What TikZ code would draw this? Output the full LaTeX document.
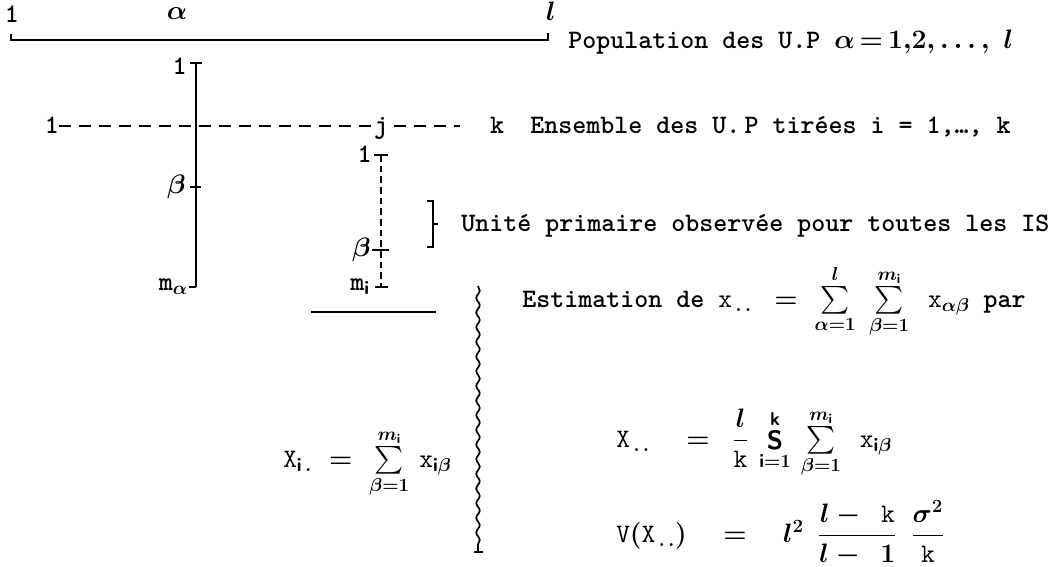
\documentclass[tikz,border=0pt]{standalone}
\usepackage{fix-cm}
\usepackage{exscale}
\usetikzlibrary{decorations.pathmorphing}
\begin{document}
\begin{tikzpicture}[x=0.75pt,y=-0.75pt,
  lbl/.style={font=\fontsize{20}{22}\selectfont\ttfamily\bfseries\boldmath, inner sep=0pt},
  ln/.style={line width=1.3pt},
  tick/.style={line width=1.2pt},
  hdash/.style={line width=1.3pt, dash pattern=on 9pt off 6pt},
  vdash/.style={line width=1.1pt, dash pattern=on 5pt off 3pt},
  wavy/.style={line width=1.3pt, decorate, decoration={snake, amplitude=1.3pt, segment length=11pt}},
]
\useasboundingbox (0,0) rectangle (1054,567);
\newcommand{\tx}[1]{\mathtt{#1}}
\newcommand{\sm}{\mathop{\textstyle\sum}\limits}

% population line
\node[lbl] (t1) at (12,14) {1};
\node[lbl] (ta) at (177,14) {$\alpha$};
\node[lbl] (tl) at (551,11) {$l$};
\coordinate (L0) at (11,34);
\coordinate (L1) at (11,40);
\coordinate (R1) at (548,40);
\coordinate (R0) at (548,33);
\draw[ln] (L0) -- (L1) -- (R1) -- (R0);
\node[lbl, anchor=base west] (pop) at (568,49) {Population des U.P $\alpha\,{=}\,1{,}2{,}\ldots{,}\ l$};

% solid vertical line (one U.P.)
\coordinate (va) at (196,63);
\coordinate (vb) at (196,287);
\coordinate (vaL) at (190,63);
\coordinate (vaR) at (202,63);
\coordinate (vbL) at (189,287);
\coordinate (vbetaL) at (190,187);
\coordinate (vbetaR) at (201,187);
\draw[ln] (va) -- (vb);
\draw[tick] (vaL) -- (vaR);
\draw[tick] (vbetaL) -- (vbetaR);
\draw[tick] (vbL) -- (vb);
\node[lbl, anchor=east] (v1) at (187,66) {1};
\node[lbl, anchor=east] (vbl) at (186,187) {$\beta$};
\node[lbl, anchor=east] (vml) at (188,287) {m$_\alpha$};

% dashed horizontal line (drawn U.P.)
\node[lbl, anchor=base] (d1) at (52,133) {1};
\node[lbl, anchor=base] (dj) at (381,133) {j};
\node[lbl, anchor=base] (dk) at (497,133) {k};
\coordinate (dje) at (394,126);
\coordinate (dke) at (460,126);
\draw[hdash] (d1.east |- dje) -- (dj.west |- dje);
\draw[hdash] (dje) -- (dke);
\node[lbl, anchor=base west] (ens) at (530,133) {Ensemble\ des\ U.\,P\ tirées i = 1,\ldots,\ k};

% dashed vertical line (observed U.P.)
\coordinate (wa) at (381,155);
\coordinate (wb) at (381,287);
\coordinate (waL) at (374,155);
\coordinate (waR) at (388,155);
\coordinate (wbetaL) at (372,250);
\coordinate (wbetaR) at (389,250);
\coordinate (wbL) at (375,287);
\coordinate (wbR) at (388,287);
\draw[vdash] (wa) -- (wb);
\draw[tick] (waL) -- (waR);
\draw[tick] (wbetaL) -- (wbetaR);
\draw[tick] (wbL) -- (wbR);
\node[lbl, anchor=east] (w1) at (372,154) {1};
\node[lbl, anchor=east] (wbl) at (371,250) {$\beta$};
\node[lbl, anchor=east] (wml) at (370,287) {m$_{\mathsf{i}}$};

% bracket
\coordinate (b1) at (427,201);
\coordinate (b2) at (433,201);
\coordinate (b3) at (433,247);
\coordinate (b4) at (427,247);
\coordinate (bm) at (433,224);
\coordinate (bmr) at (438,224);
\draw[ln] (b1) -- (b2) -- (b3) -- (b4);
\draw[ln] (bm) -- (bmr);
\node[lbl, anchor=base west] (uni) at (461,231) {Unité primaire observée pour toutes les IS};

% horizontal rule
\coordinate (h1) at (311,312);
\coordinate (h2) at (436,312);
\draw[ln] (h1) -- (h2);

% wavy brace
\coordinate (z1) at (478,286);
\coordinate (z2) at (478,551);
\coordinate (zf1) at (474,552);
\coordinate (zf2) at (483,552);
\draw[wavy] (z1) -- (z2);
\draw[ln] (zf1) -- (zf2);

% formulas
\node[lbl, anchor=base west] (est) at (522,307)
  {Estimation de $\tx{x}_{\,.\,.}\ =\;\sm_{\alpha=1}^{l}\;\sm_{\beta=1}^{m_{\mathsf{i}}}\ \tx{x}_{\alpha\beta}$ par};
\node[lbl, anchor=base west] (xi) at (283,467)
  {$\tx{X}_{\mathsf{i}\,.}\;=\;\sm_{\beta=1}^{m_{\mathsf{i}}}\,\tx{x}_{\mathsf{i}\beta}$};
\node[lbl, anchor=base west] (xx) at (616,447)
  {$\tx{X}_{\,.\,.}\ \ =\ \displaystyle\frac{l}{\tx{k}}\,\mathop{\mathsf{S}}\limits_{\mathsf{i}=1}^{\mathsf{k}}\,\sm_{\beta=1}^{m_{\mathsf{i}}}\ \tx{x}_{\mathsf{i}\beta}$};
\node[lbl, anchor=base west] (vx) at (616,542)
  {$\tx{V}(\tx{X}_{\,.\,.})\ \ =\ \ l^{2}\ \displaystyle\frac{l-\ \tx{k}}{l-\ 1}\ \frac{\sigma^{2}}{\tx{k}}$};
\end{tikzpicture}
\end{document}
